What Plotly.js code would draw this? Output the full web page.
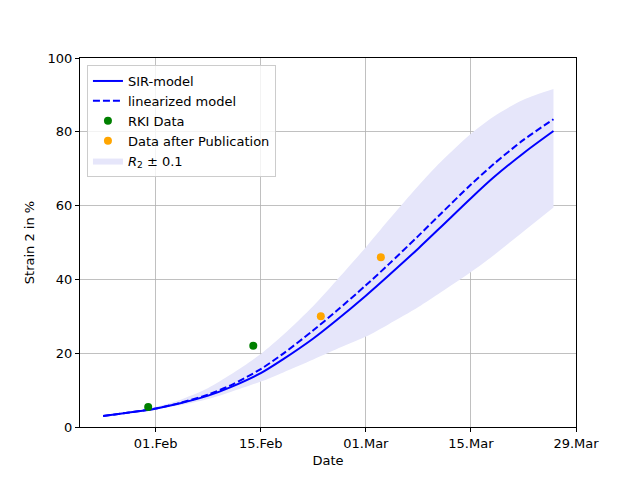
<!DOCTYPE html>
<html>
<head>
<meta charset="utf-8">
<script src="https://cdn.plot.ly/plotly-3.0.1.min.js"></script>
<style>html,body{margin:0;padding:0;background:#fff;}#chart{width:640px;height:480px;}</style>
</head>
<body>
<div id="chart"></div>
<script>
// Model curves (date, strain 2 share in %)
const modelDates = ["2021-01-25","2021-01-28","2021-01-31","2021-02-01","2021-02-04","2021-02-08","2021-02-11","2021-02-15","2021-02-18","2021-02-22","2021-02-25","2021-03-01","2021-03-04","2021-03-08","2021-03-11","2021-03-15","2021-03-18","2021-03-22","2021-03-26"];
const sirModel = [3.0,3.8,4.6,5.0,6.3,8.5,10.8,14.6,18.4,24.0,28.8,35.6,41.0,48.4,54.2,62.0,67.6,74.2,80.2];
const linModel = [3.0,3.8,4.7,5.0,6.4,8.8,11.3,15.7,19.9,26.2,31.3,38.4,44.0,51.8,57.8,65.7,71.2,77.8,83.4];

// Uncertainty band R2 ± 0.1
const bandDates = ["2021-01-31","2021-02-01","2021-02-04","2021-02-08","2021-02-11","2021-02-15","2021-02-18","2021-02-22","2021-02-25","2021-03-01","2021-03-04","2021-03-08","2021-03-11","2021-03-15","2021-03-18","2021-03-22","2021-03-26"];
const bandUpper = [4.7,5.4,7.2,10.6,14.2,19.8,25.0,32.8,39.5,48.7,56.0,65.4,71.9,79.5,84.1,88.7,91.6];
const bandLower = [4.7,4.8,5.8,7.6,9.5,12.3,14.8,18.3,21.0,24.5,27.8,32.5,36.5,42.0,46.5,53.0,59.5];

// Observations
const rkiDates = ["2021-01-31","2021-02-14"];
const rkiValues = [5.4,22.0];
const pubDates = ["2021-02-23","2021-03-03"];
const pubValues = [30.0,46.0];

// Axis ticks
const xTickVals = ["2021-02-01","2021-02-15","2021-03-01","2021-03-15","2021-03-29"];
const xTickText = ["01.Feb","15.Feb","01.Mar","15.Mar","29.Mar"];

const FONT = "DejaVu Sans, Liberation Sans, sans-serif";

const traces = [
  {x: bandDates, y: bandLower, type: "scatter", mode: "lines", line: {width: 0, color: "rgba(0,0,0,0)", shape: "spline", smoothing: 0.8}, showlegend: false, hoverinfo: "skip"},
  {x: bandDates, y: bandUpper, type: "scatter", mode: "lines", fill: "tonexty", fillcolor: "#E6E6FA", line: {width: 0, color: "#E6E6FA", shape: "spline", smoothing: 0.8}, name: "<i>R</i><sub>2</sub> ± 0.1", legendrank: 5},
  {x: modelDates, y: sirModel, type: "scatter", mode: "lines", line: {color: "#0000FF", width: 2, shape: "spline", smoothing: 0.8}, name: "SIR-model", legendrank: 1},
  {x: modelDates, y: linModel, type: "scatter", mode: "lines", line: {color: "#0000FF", width: 2, dash: "7px,3px", shape: "spline", smoothing: 0.8}, name: "linearized model", legendrank: 2},
  {x: rkiDates, y: rkiValues, type: "scatter", mode: "markers", marker: {color: "#008000", size: 8}, name: "RKI Data", legendrank: 3},
  {x: pubDates, y: pubValues, type: "scatter", mode: "markers", marker: {color: "#FFA500", size: 8}, name: "Data after Publication", legendrank: 4}
];

const axisCommon = {
  showline: true, mirror: true, linecolor: "#000", linewidth: 1,
  ticks: "outside", ticklen: 4, tickwidth: 1, tickcolor: "#000",
  showgrid: true, gridcolor: "#b0b0b0", gridwidth: 0.8,
  zeroline: false,
  tickfont: {family: FONT, size: 13, color: "#000"}
};

const layout = {
  width: 640, height: 480,
  margin: {l: 80, r: 64, t: 58, b: 53},
  paper_bgcolor: "#fff", plot_bgcolor: "#fff",
  font: {family: FONT, size: 13, color: "#000"},
  xaxis: Object.assign({}, axisCommon, {
    type: "date",
    range: ["2021-01-21 22:00", "2021-03-29"],
    tickmode: "array", tickvals: xTickVals, ticktext: xTickText,
    title: {text: "Date", font: {family: FONT, size: 13}, standoff: 6}
  }),
  yaxis: Object.assign({}, axisCommon, {
    range: [0, 100], tickmode: "linear", tick0: 0, dtick: 20,
    title: {text: "Strain 2 in %", font: {family: FONT, size: 13}, standoff: 10}
  }),
  legend: {
    x: 0.014, y: 0.981, xanchor: "left", yanchor: "top",
    traceorder: "normal",
    bgcolor: "rgba(255,255,255,0.8)", bordercolor: "#cccccc", borderwidth: 1,
    font: {family: FONT, size: 13, color: "#000"},
    tracegroupgap: 0
  },
  showlegend: true
};

Plotly.newPlot("chart", traces, layout, {displayModeBar: false, staticPlot: true});
</script>
</body>
</html>
